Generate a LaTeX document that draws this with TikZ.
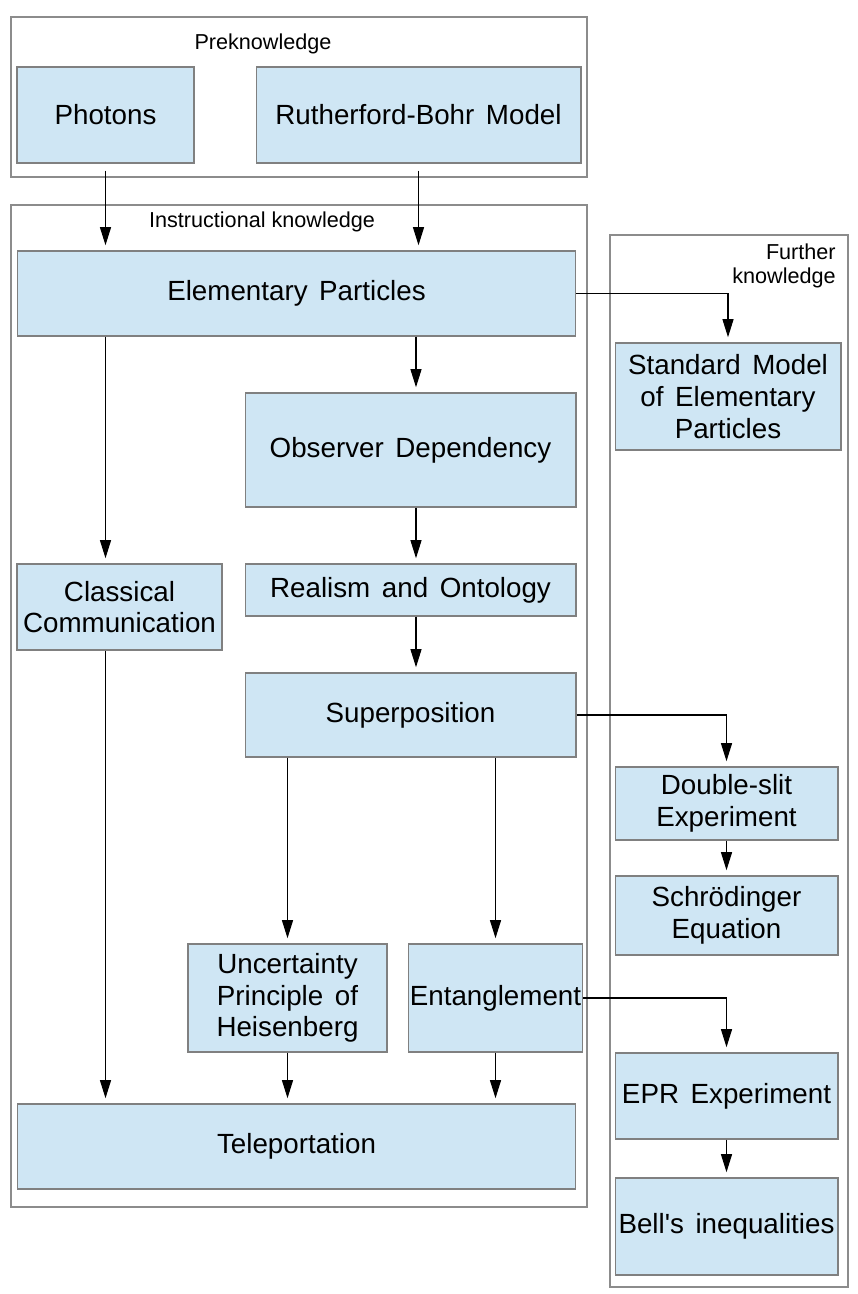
\documentclass[tikz,border=0pt]{standalone}
\usepackage{fontspec}
\setmainfont{Liberation Sans}
\newfontfamily\boxfont[WordSpace=1.5]{Liberation Sans}
\usetikzlibrary{arrows.meta}

\definecolor{boxblue}{HTML}{CFE6F4}
\definecolor{boxline}{HTML}{808080}
\definecolor{frameline}{HTML}{8C8C8C}

\begin{document}
\begin{tikzpicture}[x=0.02cm,y=-0.02cm,
  topic/.style={draw=boxline,fill=boxblue,line width=0.6pt,align=center,inner sep=1pt,
    font=\boxfont\fontsize{15.8}{18}\selectfont},
  area/.style={draw=frameline,line width=0.6pt},
  arealabel/.style={font=\fontsize{12.3}{14}\selectfont,inner sep=0pt},
  link/.style={-{Triangle[width=0.22cm,length=0.36cm]},line width=0.6pt,shorten >=3pt}]
\useasboundingbox (0,0) rectangle (858,1294);

% the three areas
\draw[area] (11,17) rectangle (587,177);
\draw[area] (11,205) rectangle (587,1207);
\draw[area] (610,235) rectangle (848,1287);

\node[arealabel] (pre) at (263,44) {Preknowledge};
\node[arealabel] (instr) at (262,222) {Instructional knowledge};
\node[arealabel,align=right,anchor=north east] (further) at (836,243) {Further\\knowledge};

% topics
\node[topic,minimum width=3.54cm,minimum height=1.92cm] (photons) at (105.5,115) {Photons};
\node[topic,minimum width=6.5cm,minimum height=1.92cm] (rbmodel) at (418.5,115) {Rutherford-Bohr Model};
\node[topic,minimum width=11.18cm,minimum height=1.7cm] (elem) at (296.5,293.5) {Elementary Particles};
\node[topic,minimum width=4.52cm,minimum height=2.14cm] (stdmodel) at (728,396.5) {Standard Model\\of Elementary\\Particles};
\node[topic,minimum width=6.62cm,minimum height=2.28cm] (observer) at (410.5,450) {Observer Dependency};
\node[topic,minimum width=4.1cm,minimum height=1.72cm] (classical) at (119.5,607) {Classical\\Communication};
\node[topic,minimum width=6.62cm,minimum height=1.04cm] (realism) at (410.5,590) {Realism and Ontology};
\node[topic,minimum width=6.62cm,minimum height=1.68cm] (superpos) at (410.5,715) {Superposition};
\node[topic,minimum width=4.46cm,minimum height=1.46cm] (doubleslit) at (726.5,803.5) {Double-slit\\Experiment};
\node[topic,minimum width=4.46cm,minimum height=1.58cm] (schroed) at (726.5,915.5) {Schrödinger\\Equation};
\node[topic,minimum width=3.98cm,minimum height=2.16cm] (uncert) at (287.5,998) {Uncertainty\\Principle of\\Heisenberg};
\node[topic,minimum width=3.42cm,minimum height=2.16cm] (entangle) at (495.5,998) {Entanglement};
\node[topic,minimum width=4.46cm,minimum height=1.72cm] (epr) at (726.5,1096) {EPR Experiment};
\node[topic,minimum width=4.46cm,minimum height=1.94cm] (bell) at (726.5,1226.5) {Bell's inequalities};
\node[topic,minimum width=11.18cm,minimum height=1.7cm] (telep) at (296.5,1146.5) {Teleportation};

% links
\draw[link,shorten <=4pt] (photons.south) -- (photons.south |- elem.north);
\draw[link,shorten <=4pt] (rbmodel.south) -- (rbmodel.south |- elem.north);
\draw[link] (elem.east) -| (stdmodel.north);
\draw[link] ([xshift=0.11cm]observer.north |- elem.south) -- ([xshift=0.11cm]observer.north);
\draw[link] (elem.south -| photons.south) -- (classical.north -| photons.south);
\draw[link] ([xshift=0.11cm]observer.south) -- ([xshift=0.11cm]realism.north);
\draw[link] ([xshift=0.11cm]realism.south) -- ([xshift=0.11cm]superpos.north);
\draw[link] (superpos.east) -| (doubleslit.north);
\draw[link] (superpos.south -| uncert.north) -- (uncert.north);
\draw[link] (superpos.south -| entangle.north) -- (entangle.north);
\draw[link] (doubleslit.south) -- (schroed.north);
\draw[link] (entangle.east) -| (epr.north);
\draw[link] (epr.south) -- (bell.north);
\draw[link] (classical.south -| photons.south) -- (telep.north -| photons.south);
\draw[link] (uncert.south) -- (telep.north -| uncert.south);
\draw[link] (entangle.south) -- (telep.north -| entangle.south);
\end{tikzpicture}
\end{document}
